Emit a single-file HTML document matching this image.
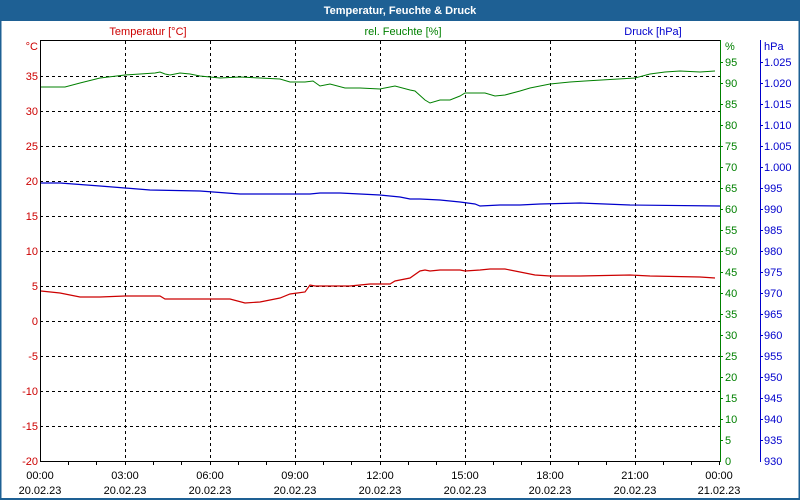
<!DOCTYPE html>
<html><head><meta charset="utf-8"><style>
html,body{margin:0;padding:0;background:#fff}
svg{display:block;font-family:"Liberation Sans",sans-serif;font-size:11px}
</style></head><body>
<svg width="800" height="500" viewBox="0 0 800 500" xmlns="http://www.w3.org/2000/svg">
<rect x="0" y="0" width="800" height="500" fill="#fff"/>
<rect x="0" y="0" width="800" height="20" fill="#1e6094"/>
<rect x="0.5" y="20" width="799" height="479" fill="none" stroke="#1e6094" stroke-width="2"/>
<text x="400" y="14" text-anchor="middle" fill="#fff" font-weight="bold" font-size="11">Temperatur, Feuchte &amp; Druck</text>
<text x="148" y="35" text-anchor="middle" fill="#cc0000">Temperatur [°C]</text>
<text x="403" y="35" text-anchor="middle" fill="#008000">rel. Feuchte [%]</text>
<text x="653" y="35" text-anchor="middle" fill="#0000cc">Druck [hPa]</text>
<g stroke="#000" stroke-dasharray="3,3" stroke-width="1">
<path d="M40 76.5H720M40 111.5H720M40 146.5H720M40 181.5H720M40 216.5H720M40 251.5H720M40 286.5H720M40 321.5H720M40 356.5H720M40 391.5H720M40 426.5H720"/>
<path d="M125.5 41V461M210.5 41V461M295.5 41V461M380.5 41V461M465.5 41V461M550.5 41V461M635.5 41V461"/>
</g>
<path d="M40.5 461V40.5H720" stroke="#000" fill="none"/>
<path d="M40 461.5H720" stroke="#000"/>
<g stroke="#000">
<path d="M68.5 461v4M96.5 461v4M125.5 461v4M153.5 461v4M181.5 461v4M210.5 461v4M238.5 461v4M266.5 461v4M295.5 461v4M323.5 461v4M351.5 461v4M380.5 461v4M408.5 461v4M436.5 461v4M465.5 461v4M493.5 461v4M521.5 461v4M550.5 461v4M578.5 461v4M606.5 461v4M635.5 461v4M663.5 461v4M691.5 461v4M719.5 461v4"/>
</g>
<path d="M720.5 40V462" stroke="#008000"/>
<path d="M760.5 40V462" stroke="#0000cc"/>
<g fill="#cc0000" text-anchor="end">
<text x="38" y="50">°C</text>
<text x="38" y="80">35</text><text x="38" y="115">30</text><text x="38" y="150">25</text><text x="38" y="185">20</text><text x="38" y="220">15</text><text x="38" y="255">10</text><text x="38" y="290">5</text><text x="38" y="325">0</text><text x="38" y="360">-5</text><text x="38" y="395">-10</text><text x="38" y="430">-15</text><text x="38" y="465">-20</text>
</g>
<g fill="#008000">
<text x="725" y="50">%</text>
<g id="h"></g>
</g>
<g fill="#008000" stroke="none">
<text x="725" y="66">95</text><text x="725" y="87">90</text><text x="725" y="108">85</text><text x="725" y="129">80</text><text x="725" y="150">75</text><text x="725" y="171">70</text><text x="725" y="192">65</text><text x="725" y="213">60</text><text x="725" y="234">55</text><text x="725" y="255">50</text><text x="725" y="276">45</text><text x="725" y="297">40</text><text x="725" y="318">35</text><text x="725" y="339">30</text><text x="725" y="360">25</text><text x="725" y="381">20</text><text x="725" y="402">15</text><text x="725" y="423">10</text><text x="725" y="444">5</text><text x="725" y="465">0</text>
</g>
<path stroke="#008000" d="M720 62.5h3M720 83.5h3M720 104.5h3M720 125.5h3M720 146.5h3M720 167.5h3M720 188.5h3M720 209.5h3M720 230.5h3M720 251.5h3M720 272.5h3M720 293.5h3M720 314.5h3M720 335.5h3M720 356.5h3M720 377.5h3M720 398.5h3M720 419.5h3M720 440.5h3"/>
<path stroke="#0000cc" d="M760 62.5h3M760 83.5h3M760 104.5h3M760 125.5h3M760 146.5h3M760 167.5h3M760 188.5h3M760 209.5h3M760 230.5h3M760 251.5h3M760 272.5h3M760 293.5h3M760 314.5h3M760 335.5h3M760 356.5h3M760 377.5h3M760 398.5h3M760 419.5h3M760 440.5h3"/>
<g fill="#0000cc">
<text x="764" y="50">hPa</text>
<text x="764" y="66">1.025</text><text x="764" y="87">1.020</text><text x="764" y="108">1.015</text><text x="764" y="129">1.010</text><text x="764" y="150">1.005</text><text x="764" y="171">1.000</text><text x="764" y="192">995</text><text x="764" y="213">990</text><text x="764" y="234">985</text><text x="764" y="255">980</text><text x="764" y="276">975</text><text x="764" y="297">970</text><text x="764" y="318">965</text><text x="764" y="339">960</text><text x="764" y="360">955</text><text x="764" y="381">950</text><text x="764" y="402">945</text><text x="764" y="423">940</text><text x="764" y="444">935</text><text x="764" y="465">930</text>
</g>
<g fill="#000" text-anchor="middle">
<text x="40" y="479">00:00</text><text x="40" y="494">20.02.23</text>
<text x="125" y="479">03:00</text><text x="125" y="494">20.02.23</text>
<text x="210" y="479">06:00</text><text x="210" y="494">20.02.23</text>
<text x="295" y="479">09:00</text><text x="295" y="494">20.02.23</text>
<text x="380" y="479">12:00</text><text x="380" y="494">20.02.23</text>
<text x="465" y="479">15:00</text><text x="465" y="494">20.02.23</text>
<text x="550" y="479">18:00</text><text x="550" y="494">20.02.23</text>
<text x="635" y="479">21:00</text><text x="635" y="494">20.02.23</text>
<text x="719" y="479">00:00</text><text x="719" y="494">21.02.23</text>
</g>
<polyline fill="none" stroke="#008000" stroke-width="1" points="41,87 65,87 80,83 100,78 125,75 140,74 155,73 160,72 165,74 170,75 180,73 190,74 200,76 220,78 240,77 260,78 280,79 290,82 305,82 313,81 320,86 330,84 345,88 360,88 380,89 395,86 410,90 415,91 425,100 430,103 440,100 450,100 460,96 465,93 485,93 495,96 505,95 520,91 530,88 550,84 570,82 585,81 635,78 650,74 665,72 680,71 700,72 715,71"/>
<polyline fill="none" stroke="#0000cc" stroke-width="1.2" points="41,183 60,183 100,186 125,188 150,190 200,191 240,194 280,194 310,194 320,193 340,193 360,194 380,195 400,197 410,199 420,199 440,200 460,202 475,204 480,206 500,205 520,205 540,204 580,203 630,205 720,206"/>
<polyline fill="none" stroke="#cc0000" stroke-width="1.2" points="41,291 60,293 80,297 100,297 125,296 160,296 165,299 200,299 230,299 245,303 260,302 280,298 290,294 305,292 310,285 315,286 330,286 350,286 370,284 390,284 395,281 410,278 420,271 425,270 430,271 440,270 460,270 465,271 480,270 490,269 505,269 515,271 535,275 550,276 580,276 630,275 650,276 700,277 715,278"/>
</svg>
</body></html>
